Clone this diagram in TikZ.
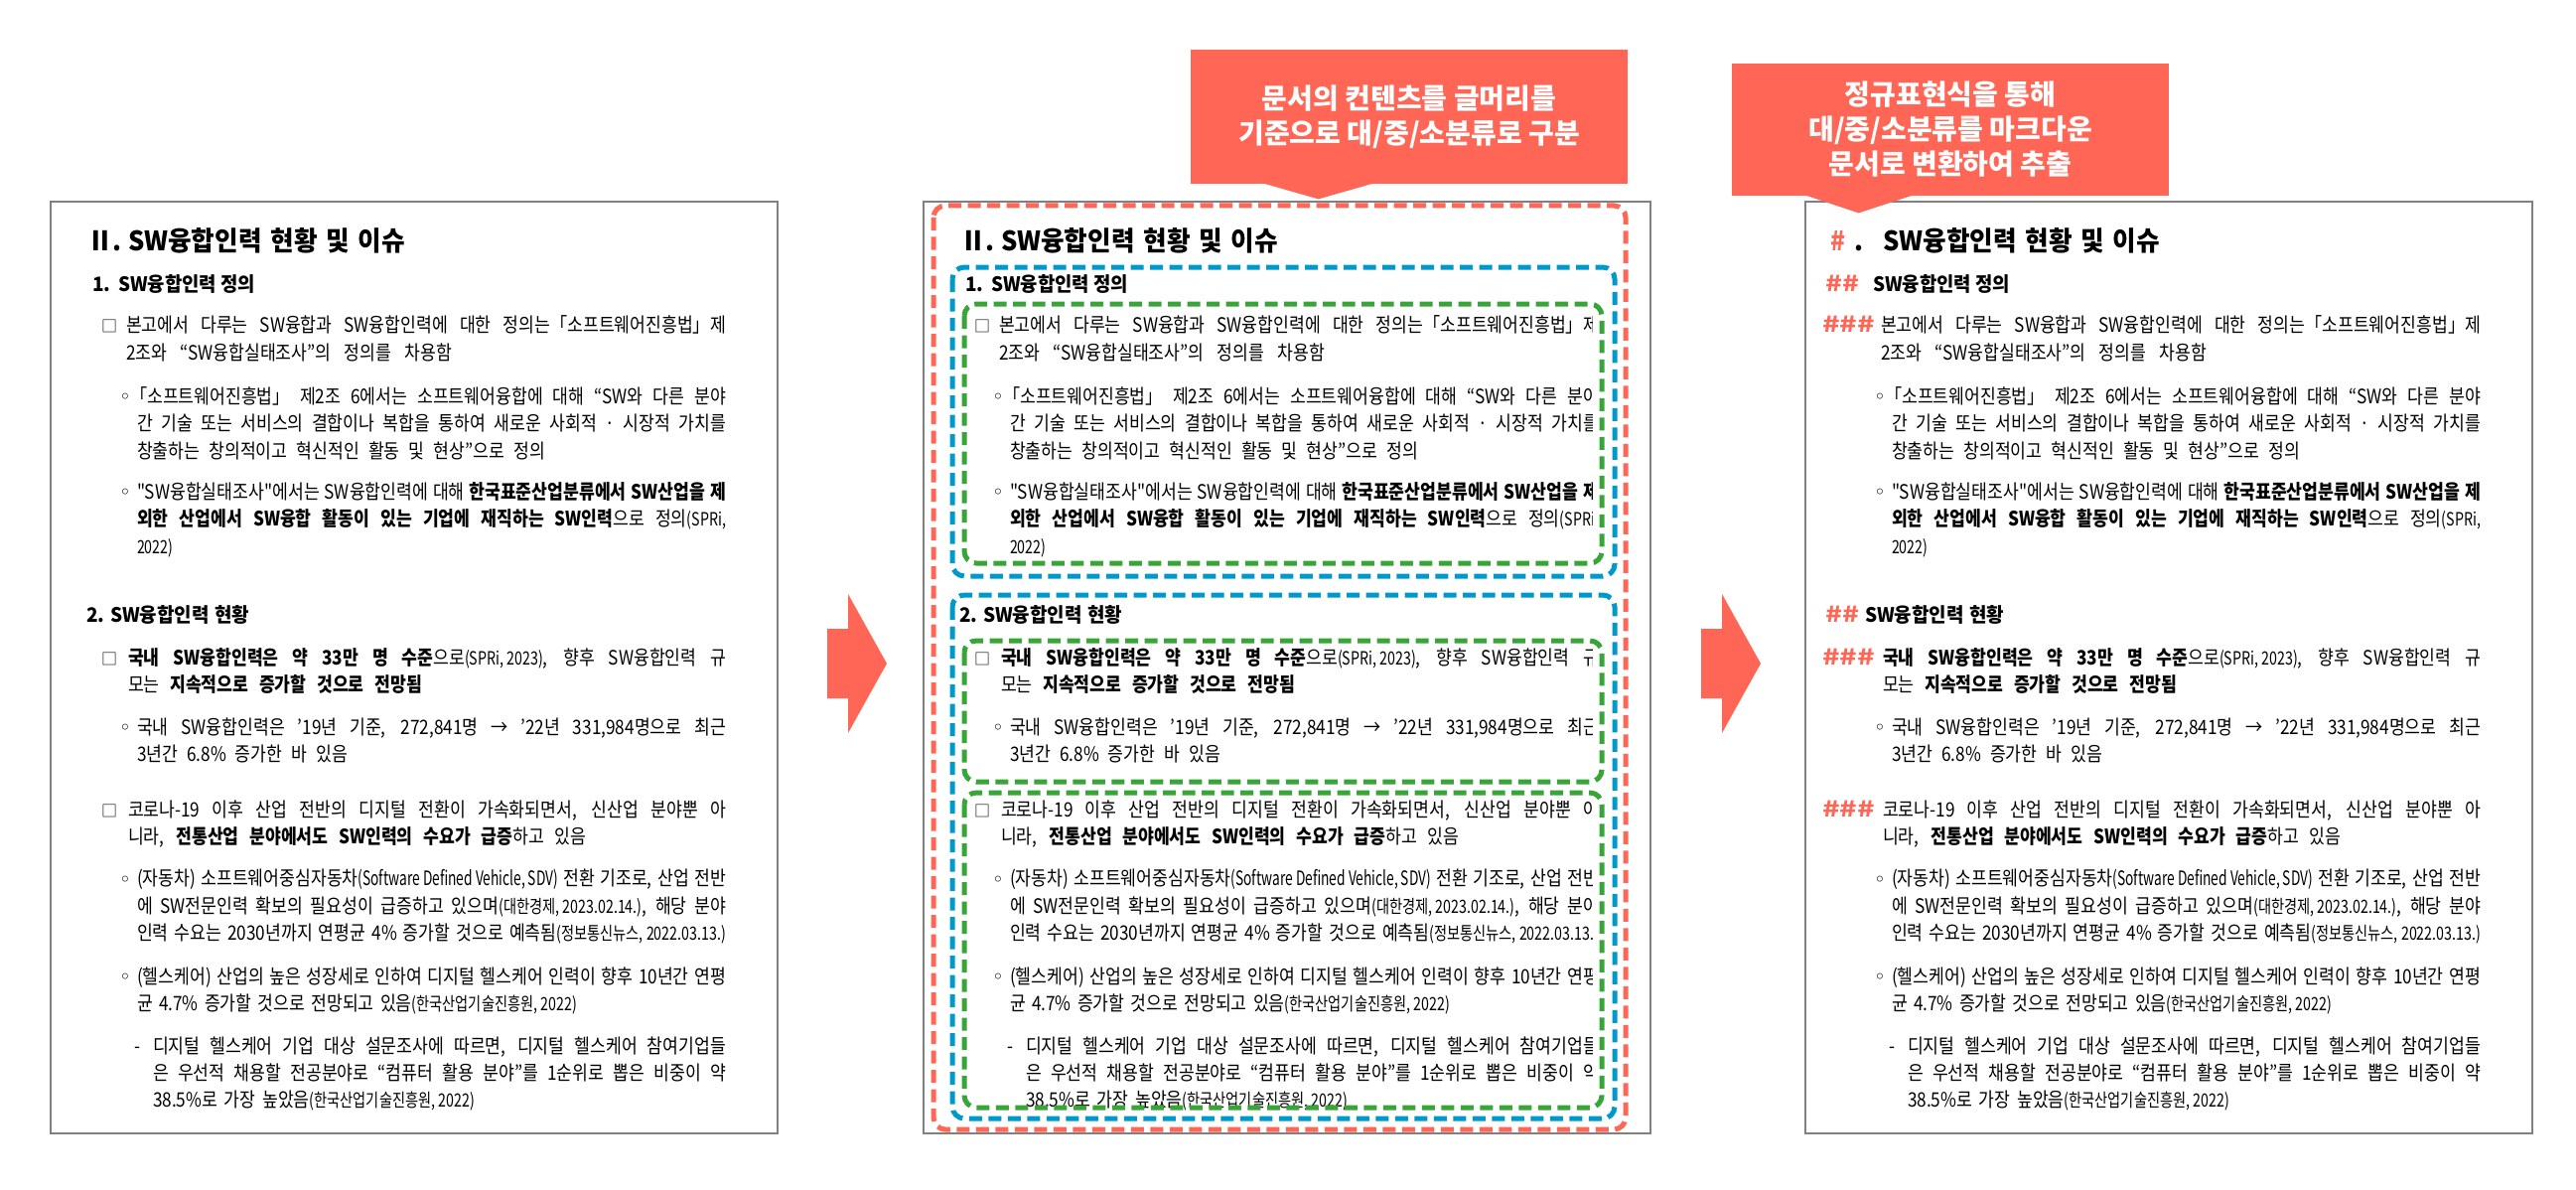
\documentclass[tikz,border=0pt]{standalone}
\usepackage{fontspec}
\usepackage{graphicx}
\newfontfamily\kr[FakeStretch=0.86]{Noto Sans CJK KR}
\newfontfamily\krh[FakeStretch=0.95]{Noto Sans CJK KR}
\newfontfamily\krn{Noto Sans CJK KR}
\newfontfamily\dv{DejaVu Sans}
\definecolor{salmon}{RGB}{255,102,85}
\definecolor{dblue}{RGB}{0,153,204}
\definecolor{dgreen}{RGB}{57,165,57}
\definecolor{framegray}{RGB}{128,128,128}
\newlength\px \setlength\px{0.5pt}
\newlength\JLw \newlength\JLn
\newcommand\JL[2]{\setlength\JLw{#1}\settowidth\JLn{#2}%
  \ifdim\JLn>\JLw\resizebox{\JLw}{\height}{#2}\else\makebox[\JLw][s]{#2}\fi}
\newcommand\FIT[2]{\resizebox{#1}{\height}{#2}}
\newcommand\cit[1]{\scalebox{0.9}[1]{\fontsize{9.2pt}{10pt}\selectfont #1}}
\newcommand\cond[1]{\scalebox{0.8}[1]{#1}}
\newcommand\Ln[5]{\node[txt] (#1) at (#2,#4) {\JL{\dimexpr #3\px-#2\px\relax}{#5}};}
\newcommand\Hd[5]{\node[txt,hfont] (#1) at (#2,#4) {\JL{\dimexpr #3\px-#2\px\relax}{#5}};}
\tikzset{
  txt/.style={anchor=base west, inner sep=0pt, outer sep=0pt, font=\kr\fontsize{10pt}{11pt}\selectfont},
  hfont/.style={font=\krh\bfseries\fontsize{10pt}{12pt}\selectfont},
  tfont/.style={font=\krh\bfseries\fontsize{13.5pt}{16pt}\selectfont},
  bul/.style={anchor=center, inner sep=0pt, outer sep=0pt},
  dot/.style={font=\dv\fontsize{10pt}{12pt}\selectfont},
  sq/.style={font=\krn\fontsize{8pt}{10pt}\selectfont},
  hash/.style={txt, text=salmon, font=\krh\bfseries\fontsize{11pt}{13pt}\selectfont},
  callout/.style={fill=salmon, text=white, align=center, inner sep=0pt, font=\krn\bfseries\fontsize{14pt}{17.5pt}\selectfont},
  panel/.style={draw=framegray, line width=1pt},
  dbox/.style={line width=2.5pt, dash pattern=on 6.5pt off 3.25pt, rounded corners=6pt},
  bigarrow/.style={fill=salmon}
}
\newcommand\Body[1]{%
 \node[txt,tfont] (#1t) at (129,252.5) {\JL{279\px}{SW융합인력 현황 및 이슈}};
 \Hd{#1h1}{119}{257}{293.5}{SW융합인력 정의}
 \Ln{#1a1}{127}{731}{334}{본고에서 다루는 SW융합과 SW융합인력에 대한 정의는「소프트웨어진흥법」제}
 \Ln{#1a2}{127}{455}{362}{2조와 “SW융합실태조사”의 정의를 차용함}
 \node[bul,dot] (#1bb) at (126,401) {◦};
 \Ln{#1b1}{131}{731}{406}{「소프트웨어진흥법」 제2조 6에서는 소프트웨어융합에 대해 “SW와 다른 분야}
 \Ln{#1b2}{138}{731}{433.5}{간 기술 또는 서비스의 결합이나 복합을 통하여 새로운 사회적 · 시장적 가치를}
 \Ln{#1b3}{138}{549}{461}{창출하는 창의적이고 혁신적인 활동 및 현상”으로 정의}
 \node[bul,dot] (#1cb) at (126,497) {◦};
 \Ln{#1c1}{138}{731}{502}{"SW융합실태조사"에서는 SW융합인력에 대해 \textbf{한국표준산업분류에서 SW산업을 제}}
 \Ln{#1c2}{138}{731}{529}{\textbf{외한 산업에서 SW융합 활동이 있는 기업에 재직하는 SW인력}으로 정의\cit{(SPRi,}}
 \node[txt] (#1c3) at (138,557) {\cit{2022)}};
 \Hd{#1h2}{111}{251}{626}{SW융합인력 현황}
 \Ln{#1d1}{129}{731}{669}{\textbf{국내 SW융합인력은 약 33만 명 수준}으로\cit{(SPRi, 2023)}, 향후 SW융합인력 규}
 \Ln{#1d2}{129}{425}{696}{모는 \textbf{지속적으로 증가할 것으로 전망됨}}
 \node[bul,dot] (#1eb) at (126,734) {◦};
 \Ln{#1e1}{138}{731}{739}{국내 SW융합인력은 ’19년 기준, 272,841명 → ’22년 331,984명으로 최근}
 \Ln{#1e2}{138}{350}{766}{3년간 6.8\% 증가한 바 있음}
 \Ln{#1f1}{129}{731}{822}{코로나-19 이후 산업 전반의 디지털 전환이 가속화되면서, 신산업 분야뿐 아}
 \Ln{#1f2}{129}{590}{849.5}{니라, \textbf{전통산업 분야에서도 SW인력의 수요가 급증}하고 있음}
 \node[bul,dot] (#1gb) at (126,887) {◦};
 \Ln{#1g1}{138}{731}{891.5}{(자동차) 소프트웨어중심자동차\cond{(Software Defined Vehicle, SDV)} 전환 기조로, 산업 전반}
 \Ln{#1g2}{138}{731}{919}{에 SW전문인력 확보의 필요성이 급증하고 있으며\cit{(대한경제, 2023.02.14.)}, 해당 분야}
 \Ln{#1g3}{138}{731}{946.5}{인력 수요는 2030년까지 연평균 4\% 증가할 것으로 예측됨\cit{(정보통신뉴스, 2022.03.13.)}}
 \node[bul,dot] (#1kb) at (126,985) {◦};
 \Ln{#1k1}{138}{731}{990}{(헬스케어) 산업의 높은 성장세로 인하여 디지털 헬스케어 인력이 향후 10년간 연평}
 \Ln{#1k2}{138}{581}{1017.5}{균 4.7\% 증가할 것으로 전망되고 있음\cit{(한국산업기술진흥원, 2022)}}
 \node[txt] (#1ib) at (135,1060) {-};
 \Ln{#1i1}{154}{731}{1060}{디지털 헬스케어 기업 대상 설문조사에 따르면, 디지털 헬스케어 참여기업들}
 \Ln{#1i2}{154}{731}{1087.5}{은 우선적 채용할 전공분야로 “컴퓨터 활용 분야”를 1순위로 뽑은 비중이 약}
 \Ln{#1i3}{154}{478}{1114}{38.5\%로 가장 높았음\cit{(한국산업기술진흥원, 2022)}}
}
\newcommand\Std[1]{%
 \node[txt,tfont] (#1t0) at (88,252.5) {Ⅱ.};
 \node[txt,hfont] (#1h1n) at (93,293.5) {1.};
 \node[txt,hfont] (#1h2n) at (87,626) {2.};
 \node[bul,sq] (#1sq1) at (110,328) {□};
 \node[bul,sq] (#1sq2) at (110,663) {□};
 \node[bul,sq] (#1sq3) at (110,816) {□};
}
\begin{document}
\begin{tikzpicture}[x=0.5pt,y=-0.5pt]
\useasboundingbox (0,0) rectangle (2594,1198);
\fill[white] (0,0) rectangle (2594,1198);
% panel frames
\draw[panel] (51,203) rectangle (783,1141);
\draw[panel] (930,203) rectangle (1662,1141);
\draw[panel] (1818,203) rectangle (2550,1141);
% left panel
\begin{scope}
 \Body{L}
 \Std{L}
\end{scope}
% middle panel
\begin{scope}[shift={(879,0)}]
 \clip (40,190) rectangle (724,1160);
 \Body{M}
 \Std{M}
\end{scope}
% right panel
\begin{scope}[shift={(1767,0)}]
 \Body{R}
 \node[txt,tfont,text=salmon] (Rt0) at (76,252.5) {\FIT{15\px}{\#}};
 \node[txt,tfont] (Rt1) at (100,252.5) {.};
 \node[hash] (Rh1n) at (71,293.5) {\FIT{34\px}{\#\#}};
 \node[hash] (Rh2n) at (71,626) {\FIT{34\px}{\#\#}};
 \node[hash] (Rs1) at (68,334) {\FIT{53\px}{\#\#\#}};
 \node[hash] (Rs2) at (68,669) {\FIT{53\px}{\#\#\#}};
 \node[hash] (Rs3) at (68,822) {\FIT{53\px}{\#\#\#}};
\end{scope}
% dashed grouping boxes
\draw[dbox, salmon] (940,207) rectangle (1637,1137);
\draw[dbox, dblue] (959,269) rectangle (1626,580);
\draw[dbox, dgreen] (971,306) rectangle (1613,567);
\draw[dbox, dblue] (959,599) rectangle (1626,1126);
\draw[dbox, dgreen] (971,645) rectangle (1613,787);
\draw[dbox, dgreen] (971,798) rectangle (1613,1115);
% big arrows
\fill[bigarrow] (833,633) -- (854,633) -- (854,598) -- (893,668) -- (854,738) -- (854,703) -- (833,703) -- cycle;
\fill[bigarrow] (1713,633) -- (1734,633) -- (1734,598) -- (1773,668) -- (1734,738) -- (1734,703) -- (1713,703) -- cycle;
% callouts
\node[callout, minimum width=220pt, minimum height=67.5pt] (co1) at (1419,117.5) {문서의 컨텐츠를 글머리를\\기준으로 대/중/소분류로 구분};
\fill[salmon] ([shift={(73,-1)}]co1.south west) -- ([shift={(129,15)}]co1.south west) -- ([shift={(185,-1)}]co1.south west) -- cycle;
\node[callout, minimum width=220pt, minimum height=66.5pt] (co2) at (1964,130.5) {정규표현식을 통해\\대/중/소분류를 마크다운\\문서로 변환하여 추출};
\fill[salmon] ([shift={(74,-1)}]co2.south west) -- ([shift={(128,17)}]co2.south west) -- ([shift={(183,-1)}]co2.south west) -- cycle;
\end{tikzpicture}
\end{document}
